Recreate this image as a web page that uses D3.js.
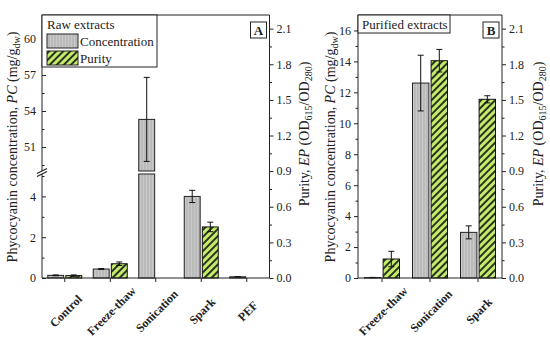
<!DOCTYPE html>
<html>
<head>
<meta charset="utf-8">
<script src="https://cdn.jsdelivr.net/npm/d3@7"></script>
<style>
  body { margin: 0; background: #fff; }
  svg { display: block; }
  text { font-family: "Liberation Serif", "DejaVu Serif", serif; fill: #222; }
</style>
</head>
<body>
<svg class="fig" width="550" height="348"></svg>
<script>
// panel A - raw extracts
var catsA = ["Control", "Freeze-thaw", "Sonication", "Spark", "PEF"];
var concA = [0.13, 0.44, 53.3, 4.0, 0.06];
var concErrA = [0.02, 0.02, 3.5, 0.3, 0.01];
var purA = [0.02, 0.12, null, 0.43, null];
var purErrA = [0.006, 0.015, null, 0.04, null];

// panel B - purified extracts
var catsB = ["Freeze-thaw", "Sonication", "Spark"];
var concB = [0.03, 12.6, 2.95];
var concErrB = [0.01, 1.8, 0.42];
var purB = [0.16, 1.83, 1.505];
var purErrB = [0.065, 0.095, 0.03];

// ticks
var lowTicksA = [0, 2, 4];
var highTicksA = [51, 54, 57, 60];
var concTicksB = [0, 2, 4, 6, 8, 10, 12, 14, 16];
var purTicks = [0, 0.3, 0.6, 0.9, 1.2, 1.5, 1.8, 2.1];

var yTop = 15, yBot = 278;
var svg = d3.select('.fig');

var defs = svg.append('defs');
var gp = defs.append('pattern').attr('id', 'grayTex').attr('patternUnits', 'userSpaceOnUse')
  .attr('width', 3).attr('height', 10);
gp.append('rect').attr('width', 3).attr('height', 10).attr('fill', '#c9c9c9');
gp.append('line').attr('x1', 1).attr('x2', 1).attr('y1', 0).attr('y2', 10)
  .attr('stroke', '#acacac').attr('stroke-width', 1);
var hp = defs.append('pattern').attr('id', 'hatch').attr('patternUnits', 'userSpaceOnUse')
  .attr('width', 5).attr('height', 5).attr('patternTransform', 'rotate(45)');
hp.append('rect').attr('width', 5).attr('height', 5).attr('fill', '#c4ec6c');
hp.append('line').attr('x1', 1).attr('x2', 1).attr('y1', 0).attr('y2', 5)
  .attr('stroke', '#111').attr('stroke-width', 1.7);

var yPur = d3.scaleLinear().domain([0, 2.215]).range([yBot, yTop]);

function styleAxis(g) {
  g.select('.domain').remove();
  g.attr('font-family', '"Liberation Serif", serif').attr('font-size', 12);
  g.selectAll('line').attr('stroke', '#222');
  g.selectAll('text').attr('fill', '#333');
}
function minorVals(step, lo, hi) {
  var out = [];
  for (var v = lo; v <= hi + 1e-9; v += step) out.push(+v.toFixed(3));
  return out;
}

function errBar(g, cx, y1, y2) {
  g.append('line').attr('x1', cx).attr('x2', cx).attr('y1', y1).attr('y2', y2).attr('stroke', '#111');
  g.append('line').attr('x1', cx - 3).attr('x2', cx + 3).attr('y1', y1).attr('y2', y1).attr('stroke', '#111');
  g.append('line').attr('x1', cx - 3).attr('x2', cx + 3).attr('y1', y2).attr('y2', y2).attr('stroke', '#111');
}

function drawPanel(opt) {
  var g = svg.append('g');
  var x0 = d3.scaleBand().domain(opt.cats).range([opt.left, opt.right]);
  var x1 = d3.scaleBand().domain(['c', 'p']).range([0, opt.groupW]).paddingInner(0.12);
  var off = (x0.bandwidth() - opt.groupW) / 2;
  var yc = opt.yConc;

  // gray bars (concentration)
  opt.cats.forEach(function(c, i) {
    var xx = x0(c) + off + x1('c');
    var v = opt.conc[i];
    yc.segments(v).forEach(function(s) {
      g.append('rect').attr('x', xx).attr('width', x1.bandwidth())
        .attr('y', s[0]).attr('height', s[1] - s[0])
        .attr('fill', 'url(#grayTex)').attr('stroke', '#222').attr('stroke-width', 1);
    });
    errBar(g, xx + x1.bandwidth() / 2, yc(v + opt.concErr[i]), yc(v - opt.concErr[i]));
  });
  // green bars (purity)
  opt.cats.forEach(function(c, i) {
    var v = opt.pur[i];
    if (v == null) return;
    var xx = x0(c) + off + x1('p');
    g.append('rect').attr('x', xx).attr('width', x1.bandwidth())
      .attr('y', yPur(v)).attr('height', yBot - yPur(v))
      .attr('fill', 'url(#hatch)').attr('stroke', '#111').attr('stroke-width', 1);
    errBar(g, xx + x1.bandwidth() / 2, yPur(v + opt.purErr[i]), yPur(v - opt.purErr[i]));
  });

  // frame
  g.append('line').attr('x1', opt.left).attr('x2', opt.right).attr('y1', yTop).attr('y2', yTop).attr('stroke', '#222');
  g.append('line').attr('x1', opt.left).attr('x2', opt.right).attr('y1', yBot).attr('y2', yBot).attr('stroke', '#222');
  g.append('line').attr('x1', opt.right).attr('x2', opt.right).attr('y1', yTop).attr('y2', yBot).attr('stroke', '#222');

  // bottom axis ticks + rotated labels
  var xb = g.append('g').attr('transform', 'translate(0,' + yBot + ')')
    .call(d3.axisBottom(x0).tickSize(4).tickFormat(''));
  styleAxis(xb);
  g.selectAll('.xlab').data(opt.cats).enter().append('text').attr('class', 'xlab')
    .attr('text-anchor', 'middle').attr('dy', '0.35em')
    .attr('font-weight', 'bold').attr('font-size', 12)
    .attr('transform', function(d) { return 'translate(' + (x0(d) + x0.bandwidth() / 2 + 1) + ',311) rotate(-45)'; })
    .text(function(d) { return d; });

  // right axis (purity)
  var ra = g.append('g').attr('transform', 'translate(' + opt.right + ',0)')
    .call(d3.axisRight(yPur).tickValues(purTicks).tickSize(4).tickPadding(3).tickFormat(d3.format('.1f')));
  styleAxis(ra);
  var rm = g.append('g').attr('transform', 'translate(' + opt.right + ',0)')
    .call(d3.axisRight(yPur).tickValues(minorVals(0.3, 0.15, 2.2)).tickSize(2.5).tickFormat(''));
  styleAxis(rm);

  // axis titles
  var lt = g.append('text').attr('font-size', 14).attr('text-anchor', 'middle')
    .attr('transform', 'translate(' + opt.leftTitleX + ',147) rotate(-90)');
  lt.append('tspan').text('Phycocyanin concentration, ');
  lt.append('tspan').attr('font-style', 'italic').text('PC');
  lt.append('tspan').text(' (mg/g');
  lt.append('tspan').attr('font-size', 10).attr('dy', 3).text('dw');
  lt.append('tspan').attr('dy', -3).text(')');

  var rt = g.append('text').attr('font-size', 14).attr('text-anchor', 'middle')
    .attr('transform', 'translate(' + opt.rightTitleX + ',134) rotate(-90)');
  rt.append('tspan').text('Purity, ');
  rt.append('tspan').attr('font-style', 'italic').text('EP');
  rt.append('tspan').text(' (OD');
  rt.append('tspan').attr('font-size', 10).attr('dy', 3).text('615');
  rt.append('tspan').attr('dy', -3).text('/OD');
  rt.append('tspan').attr('font-size', 10).attr('dy', 3).text('280');
  rt.append('tspan').attr('dy', -3).text(')');

  // panel letter
  g.append('rect').attr('x', opt.right - 19).attr('y', 22).attr('width', 16).attr('height', 16)
    .attr('fill', '#fff').attr('stroke', '#222');
  g.append('text').attr('x', opt.right - 11).attr('y', 35).attr('text-anchor', 'middle')
    .attr('font-weight', 'bold').attr('font-size', 13).text(opt.letter);
  return g;
}

// ---- panel A: broken y axis ----
var lowA = d3.scaleLinear().domain([0, 5.1]).range([yBot, 174]);
var highA = d3.scaleLinear().domain([49, 62]).range([171, yTop]);
function yA(v) { return v <= 5.1 ? lowA(v) : highA(v); }
yA.segments = function(v) {
  if (v <= 5.1) return [[lowA(v), yBot]];
  return [[highA(v), highA(49)], [lowA(5.1), yBot]];
};
var leftA = 42, rightA = 269.5;
var gA = drawPanel({ cats: catsA, conc: concA, concErr: concErrA, pur: purA, purErr: purErrA,
  left: leftA, right: rightA, groupW: 34, yConc: yA, leftTitleX: 17, rightTitleX: 309, letter: 'A' });

// left axis A with inward ticks
var la1 = gA.append('g').attr('transform', 'translate(' + leftA + ',0)')
  .call(d3.axisLeft(lowA).tickValues(lowTicksA).tickSizeInner(-4).tickSizeOuter(0).tickPadding(6).tickFormat(d3.format('d')));
styleAxis(la1);
var la1m = gA.append('g').attr('transform', 'translate(' + leftA + ',0)')
  .call(d3.axisLeft(lowA).tickValues([1, 3, 5]).tickSizeInner(-2.5).tickSizeOuter(0).tickFormat(''));
styleAxis(la1m);
var la2 = gA.append('g').attr('transform', 'translate(' + leftA + ',0)')
  .call(d3.axisLeft(highA).tickValues(highTicksA).tickSizeInner(-4).tickSizeOuter(0).tickPadding(6).tickFormat(d3.format('d')));
styleAxis(la2);
var la2m = gA.append('g').attr('transform', 'translate(' + leftA + ',0)')
  .call(d3.axisLeft(highA).tickValues([49.5, 52.5, 55.5, 58.5, 61.5]).tickSizeInner(-2.5).tickSizeOuter(0).tickFormat(''));
styleAxis(la2m);
gA.append('line').attr('x1', leftA).attr('x2', leftA).attr('y1', yTop).attr('y2', highA(49)).attr('stroke', '#222');
gA.append('line').attr('x1', leftA).attr('x2', leftA).attr('y1', lowA(5.1)).attr('y2', yBot).attr('stroke', '#222');
[highA(49), lowA(5.1)].forEach(function(yy) {
  gA.append('line').attr('x1', leftA - 5).attr('x2', leftA + 5).attr('y1', yy + 2.5).attr('y2', yy - 2.5)
    .attr('stroke', '#222').attr('stroke-width', 1.2);
});

// legend A
var lg = gA.append('g');
lg.append('rect').attr('x', leftA).attr('y', yTop).attr('width', 115).attr('height', 52)
  .attr('fill', '#fff').attr('stroke', '#222');
lg.append('text').attr('x', 47).attr('y', 29).attr('font-size', 13).text('Raw extracts');
lg.append('rect').attr('x', 47).attr('y', 34).attr('width', 31).attr('height', 14)
  .attr('fill', 'url(#grayTex)').attr('stroke', '#222');
lg.append('text').attr('x', 80).attr('y', 46).attr('font-size', 13).text('Concentration');
lg.append('rect').attr('x', 47).attr('y', 51).attr('width', 31).attr('height', 14)
  .attr('fill', 'url(#hatch)').attr('stroke', '#222');
lg.append('text').attr('x', 80).attr('y', 63).attr('font-size', 13).text('Purity');

// ---- panel B ----
var yB = d3.scaleLinear().domain([0, 17]).range([yBot, yTop]);
var yBc = function(v) { return yB(v); };
yBc.segments = function(v) { return [[yB(v), yBot]]; };
var leftB = 358, rightB = 502;
var gB = drawPanel({ cats: catsB, conc: concB, concErr: concErrB, pur: purB, purErr: purErrB,
  left: leftB, right: rightB, groupW: 35, yConc: yBc, leftTitleX: 335, rightTitleX: 543, letter: 'B' });
var lb = gB.append('g').attr('transform', 'translate(' + leftB + ',0)')
  .call(d3.axisLeft(yB).tickValues(concTicksB).tickSize(4).tickPadding(3));
styleAxis(lb);
var lbm = gB.append('g').attr('transform', 'translate(' + leftB + ',0)')
  .call(d3.axisLeft(yB).tickValues([1, 3, 5, 7, 9, 11, 13, 15]).tickSize(2.5).tickFormat(''));
styleAxis(lbm);
gB.append('line').attr('x1', leftB).attr('x2', leftB).attr('y1', yTop).attr('y2', yBot).attr('stroke', '#222');
gB.append('rect').attr('x', leftB).attr('y', yTop).attr('width', 92).attr('height', 18)
  .attr('fill', '#fff').attr('stroke', '#222');
gB.append('text').attr('x', 362).attr('y', 29).attr('font-size', 13).text('Purified extracts');
</script>
</body>
</html>
